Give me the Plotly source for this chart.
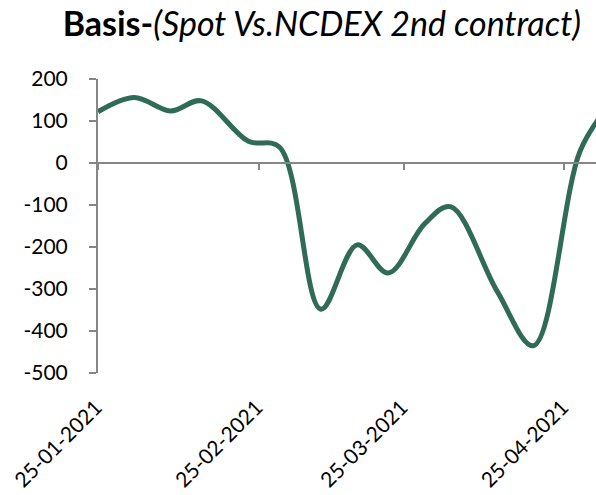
import plotly.graph_objects as go

dates = ["2021-01-25", "2021-02-01", "2021-02-08", "2021-02-14", "2021-02-23",
         "2021-03-01", "2021-03-09", "2021-03-16", "2021-03-22", "2021-03-29",
         "2021-04-03", "2021-04-12", "2021-04-19", "2021-04-28", "2021-05-03"]
basis = [122, 156, 124, 148, 52, 38, -348, -195, -262, -145, -104, -305, -435, 28, 128]

tick_dates = ["2021-01-25", "2021-02-25", "2021-03-25", "2021-04-25"]
tick_labels = ["25-01-2021", "25-02-2021", "25-03-2021", "25-04-2021"]

x_range = ["2021-01-25", "2021-05-01 02:00"]
y_range = [-500, 200]
y_ticks = [200, 100, 0, -100, -200, -300, -400, -500]
y_tick_labels = ["200", "100", "0", "-100", "-200", "-300", "-400", "-500"]

GREEN = "#2F6B57"
GRAY = "#868686"
FONT = "Lato"

fig = go.Figure()
# hidden copy on the label axis so it renders with the same range
fig.add_trace(go.Scatter(
    x=dates, y=basis, mode="lines", xaxis="x", yaxis="y",
    line=dict(color="rgba(0,0,0,0)", width=0),
    hoverinfo="skip", showlegend=False,
))
fig.add_trace(go.Scatter(
    x=dates, y=basis, mode="lines", xaxis="x2", yaxis="y",
    line=dict(color=GREEN, width=5, shape="spline", smoothing=1.0),
    hoverinfo="x+y", showlegend=False,
))

fig.update_layout(
    width=596, height=495,
    margin=dict(l=98, r=0, t=79, b=122, autoexpand=False),
    paper_bgcolor="white", plot_bgcolor="white",
    font=dict(family=FONT, color="black"),
    title=dict(
        text="<b>Basis-</b><i>(Spot Vs.NCDEX 2nd contract)</i>",
        x=0.54, xref="container", xanchor="center",
        y=1 - 24 / 495, yref="container", yanchor="middle",
        font=dict(family=FONT, size=34, color="black"),
    ),
    xaxis=dict(
        type="date", range=x_range, automargin=False,
        tickvals=tick_dates, ticktext=tick_labels,
        tickangle=-45, ticks="", showline=False, showgrid=False, zeroline=False,
        tickfont=dict(family=FONT, size=21, color="black"),
        ticklabelstandoff=17, ticklabelshift=-2, ticklabeloverflow="allow",
    ),
    xaxis2=dict(
        type="date", range=x_range, overlaying="x", anchor="free",
        position=(0 - y_range[0]) / (y_range[1] - y_range[0]),
        tickvals=tick_dates, showticklabels=False, automargin=False,
        showline=True, linecolor=GRAY, linewidth=2,
        ticks="outside", ticklen=6, tickwidth=2, tickcolor=GRAY,
        showgrid=False, zeroline=False,
    ),
    yaxis=dict(
        range=y_range, tickvals=y_ticks, ticktext=y_tick_labels, automargin=False,
        showline=True, linecolor=GRAY, linewidth=2,
        ticks="outside", ticklen=7, tickwidth=2, tickcolor=GRAY,
        showgrid=False, zeroline=False,
        tickfont=dict(family=FONT, size=21, color="black"),
        ticklabelstandoff=17,
    ),
)

fig.write_html("out.html", config={"displayModeBar": False},
               post_script="document.body.style.margin='0';")
